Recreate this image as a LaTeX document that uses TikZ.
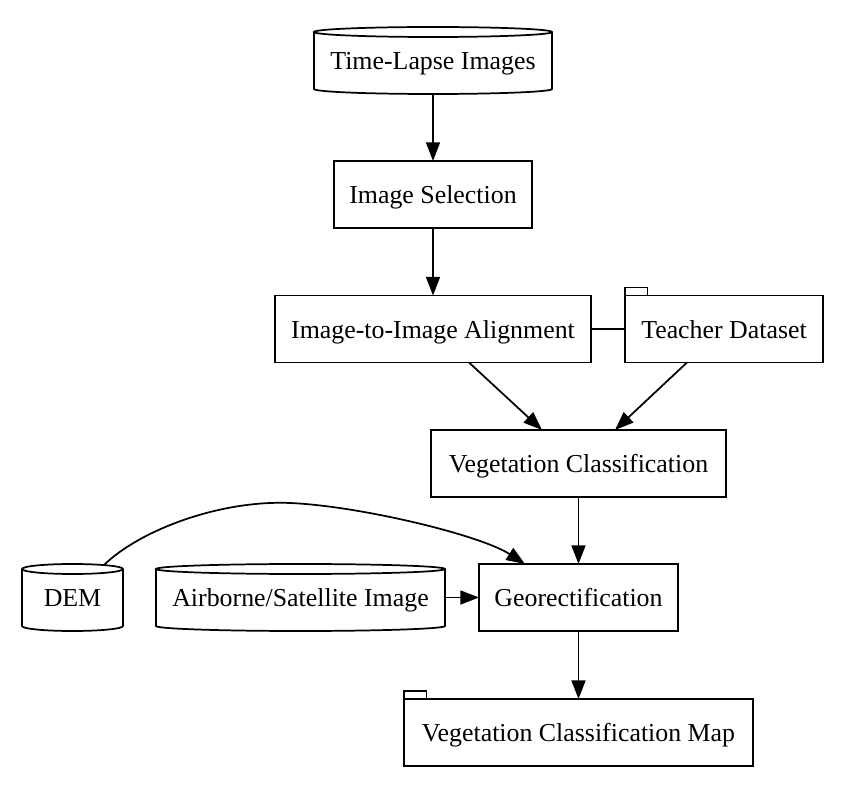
\documentclass[tikz,border=0pt]{standalone}
\usepackage{fontspec}
\setmainfont{Liberation Serif}
\usetikzlibrary{arrows.meta,calc}
\newcommand{\drumline}[1]{%
  \draw let \p1=(#1.north west), \p2=(#1.south east), \n1={(\x2-\x1)/2} in
    (\x1,\y1-3.75pt) -- (\x1,\y2+3.75pt)
    arc[start angle=180,end angle=360,x radius=\n1,y radius=3.75pt]
    -- (\x2,\y1-3.75pt)
    arc[start angle=0,end angle=180,x radius=\n1,y radius=3.75pt]
    arc[start angle=180,end angle=360,x radius=\n1,y radius=3.75pt];}
\newcommand{\foldertab}[1]{%
  \draw ($(#1.north west)+(0,8)$) rectangle ($(#1.north west)+(22.5,0)$);}

\begin{document}
\begin{tikzpicture}[x=0.75pt,y=0.75pt,line width=1.3pt,
    font=\fontsize{19.4pt}{23pt}\selectfont,
    proc/.style={draw,rectangle,minimum height=50.25pt,inner sep=0pt,outer sep=0pt,
      text height=18.2pt,text depth=4pt},
    drum/.style={rectangle,minimum height=50.25pt,inner sep=0pt,outer sep=0pt,
      text height=18.2pt,text depth=4pt},
    flow/.style={-{Triangle[length=14pt,width=10.5pt]}}]
  \useasboundingbox (0,0) rectangle (844,-791);
  \node[drum,minimum width=178.5pt] (tli) at (433,-60.5) {Time-Lapse Images};
  \node[proc,minimum width=148.5pt] (sel) at (433,-194.5) {Image Selection};
  \node[proc,minimum width=237pt] (align) at (433,-329) {Image-to-Image Alignment};
  \node[proc,minimum width=148.5pt] (teach) at (724,-329) {Teacher Dataset};
  \node[proc,minimum width=221.25pt] (vclass) at (578.5,-463.5) {Vegetation Classification};
  \node[drum,minimum width=75.75pt] (dem) at (72.5,-597.5) {DEM};
  \node[drum,minimum width=216.75pt] (air) at (300.5,-597.5) {Airborne/Satellite Image};
  \node[proc,minimum width=149.25pt] (geo) at (578.5,-597.5) {Georectification};
  \node[proc,minimum width=261.75pt] (vmap) at (578.5,-732.5) {Vegetation Classification Map};
  \drumline{tli}
  \drumline{dem}
  \drumline{air}
  \foldertab{teach}
  \foldertab{vmap}
  \draw[flow] (tli) -- (sel);
  \draw[flow] (sel) -- (align);
  \draw (align) -- (teach);
  \draw[flow] ($(align.south)+(36,0)$) -- ($(vclass.north)+(-36.5,0)$);
  \draw[flow] ($(teach.south)+(-37,0)$) -- ($(vclass.north)+(36.5,0)$);
  \draw[flow] (vclass) -- (geo);
  \draw[flow] ($(dem.north)+(31.5,-1)$) .. controls (140,-530) and (220,-500) .. (290,-503)
    .. controls (360,-506) and (480,-535) .. ($(geo.north)+(-53.5,0)$);
  \draw[flow] (air) -- (geo);
  \draw[flow] (geo) -- (vmap);
\end{tikzpicture}
\end{document}
